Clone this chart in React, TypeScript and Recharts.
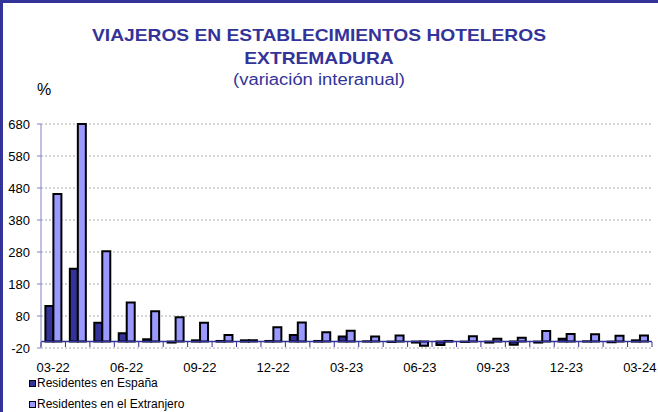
import React from 'react';
import { BarChart, Bar, XAxis, YAxis, CartesianGrid, ReferenceLine } from 'recharts';

const months = [
  '03-22', '04-22', '05-22', '06-22', '07-22', '08-22', '09-22', '10-22', '11-22', '12-22',
  '01-23', '02-23', '03-23', '04-23', '05-23', '06-23', '07-23', '08-23', '09-23', '10-23',
  '11-23', '12-23', '01-24', '02-24', '03-24',
];
const espana = [111, 228, 59, 26, 7, -3, 4, 2, 4, 2, 21, 2, 16, 1, -1, -3, -11, -1, -3, -10, -3, 9, 1, -2, 4];
const extranjero = [461, 680, 282, 122, 95, 76, 59, 21, 4, 45, 60, 29, 34, 16, 19, -13, 2, 17, 9, 12, 33, 24, 23, 18, 19];
const yTicks = [-20, 80, 180, 280, 380, 480, 580, 680];
const seriesNames = ['Residentes en España', 'Residentes en el Extranjero'];
const seriesColors = ['#333399', '#9999ff'];

const data = months.map((m, i) => ({ month: m, espana: espana[i], extranjero: extranjero[i] }));

const FONT = "Arial, 'Liberation Sans', sans-serif";
const BLUE = '#333399';

const XTick = (props: any) => {
  const { x, y, payload } = props;
  const half = payload?.offset ?? 0;
  const idx = payload?.index ?? 0;
  return (
    <g>
      <line x1={x - half} x2={x - half} y1={y - 6} y2={y - 1} stroke={BLUE} strokeWidth={1} />
      {idx === months.length - 1 && (
        <line x1={x + half} x2={x + half} y1={y - 6} y2={y - 1} stroke={BLUE} strokeWidth={1} />
      )}
      {idx % 3 === 0 && (
        <text x={x} y={y + 19} textAnchor="middle" dominantBaseline="central" fontSize={13} fontFamily={FONT} fill="#000">
          {payload.value}
        </text>
      )}
    </g>
  );
};

const verticalGen = (props: any) => {
  const s = props?.xAxis?.scale;
  if (!s || typeof s !== 'function') return [];
  const bw = typeof s.bandwidth === 'function' ? s.bandwidth() : 0;
  const pts: number[] = months.map((m) => s(m)).filter((v: any) => typeof v === 'number' && !isNaN(v));
  if (pts.length) pts.push(pts[pts.length - 1] + bw);
  return pts;
};

export default function App() {
  return (
    <div
      style={{
        position: 'absolute',
        left: 0,
        top: 0,
        width: 658,
        height: 412,
        background: '#fff',
        borderTop: `3px solid ${BLUE}`,
        borderLeft: `3px solid ${BLUE}`,
        boxSizing: 'border-box',
        overflow: 'hidden',
        fontFamily: FONT,
      }}
    >
      <div style={{ position: 'absolute', left: -3, top: -3 }}>
        <BarChart
          width={658}
          height={412}
          data={data}
          margin={{ top: 124, right: 6, bottom: 34, left: 0 }}
          barCategoryGap="18%"
          barGap={0}
        >
          <CartesianGrid stroke="#a8a8a8" strokeDasharray="2 2" verticalCoordinatesGenerator={verticalGen} />
          <XAxis
            dataKey="month"
            interval={0}
            tick={<XTick />}
            tickLine={false}
            axisLine={false}
            tickSize={0}
            tickMargin={0}
            height={30}
          />
          <YAxis
            domain={[-20, 680]}
            ticks={yTicks}
            interval={0}
            width={41}
            tick={{ fontSize: 13, fill: '#000', fontFamily: FONT }}
            tickLine={{ stroke: '#8080c8' }}
            axisLine={{ stroke: '#8080c8' }}
            tickSize={4}
            tickMargin={7}
          />
          <Bar dataKey="espana" name={seriesNames[0]} fill={seriesColors[0]} stroke="#000" strokeWidth={2} isAnimationActive={false} />
          <Bar dataKey="extranjero" name={seriesNames[1]} fill={seriesColors[1]} stroke="#000" strokeWidth={2} isAnimationActive={false} />
          <ReferenceLine y={0} stroke={BLUE} strokeWidth={1.5} />
        </BarChart>
        <div style={{ position: 'absolute', left: 0, top: 0, width: 638, pointerEvents: 'none' }}>
          <div style={{ position: 'absolute', left: 0, width: 638, top: 26, textAlign: 'center', color: BLUE, fontWeight: 'bold', fontSize: 17, lineHeight: '20px', transform: 'scaleX(1.13)', whiteSpace: 'nowrap' }}>
            VIAJEROS EN ESTABLECIMIENTOS HOTELEROS
          </div>
          <div style={{ position: 'absolute', left: 0, width: 638, top: 49, textAlign: 'center', color: BLUE, fontWeight: 'bold', fontSize: 17, lineHeight: '20px', transform: 'scaleX(1.13)', whiteSpace: 'nowrap' }}>
            EXTREMADURA
          </div>
          <div style={{ position: 'absolute', left: 0, width: 638, top: 70, textAlign: 'center', color: BLUE, fontSize: 16, lineHeight: '20px', transform: 'scaleX(1.15)', whiteSpace: 'nowrap' }}>
            (variación interanual)
          </div>
        </div>
        <div style={{ position: 'absolute', left: 37, top: 80, fontSize: 16, lineHeight: '20px', color: '#000' }}>%</div>
        <div style={{ position: 'absolute', left: 29, top: 373, fontSize: 12, color: '#000' }}>
          {seriesNames.map((n, i) => (
            <div key={n} style={{ display: 'flex', alignItems: 'center', height: 21, lineHeight: '21px', whiteSpace: 'nowrap' }}>
              <span style={{ display: 'inline-block', width: 5, height: 5, background: seriesColors[i], border: '1.5px solid #000', marginRight: 1 }} />
              <span>{n}</span>
            </div>
          ))}
        </div>
      </div>
    </div>
  );
}
